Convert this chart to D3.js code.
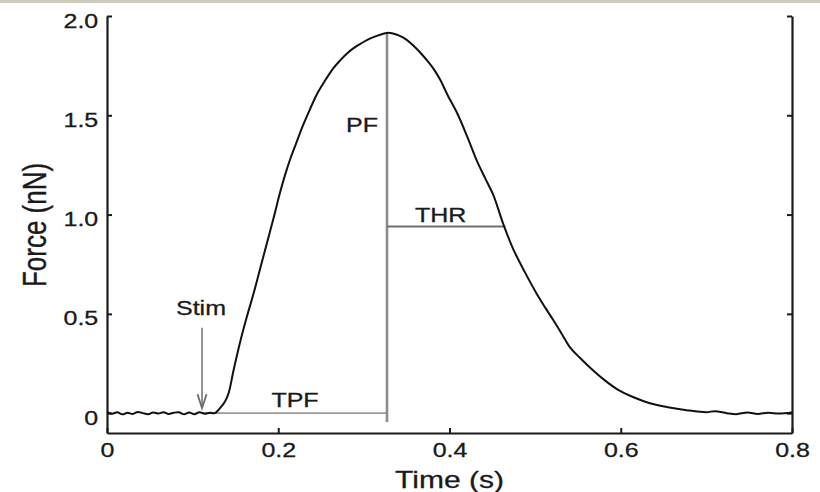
<!DOCTYPE html>
<html>
<head>
<meta charset="utf-8">
<script src="https://cdn.jsdelivr.net/npm/d3@7"></script>
<style>
  body { margin: 0; background: #fff; }
  svg text { font-family: "Liberation Sans", Arial, sans-serif; fill: #1a1a1a; stroke: #1a1a1a; stroke-width: 0.3; }
</style>
</head>
<body>
<div id="chart"></div>
<script>
// Data ----------------------------------------------
const timeValues = [
  0.000, 0.006, 0.012, 0.018, 0.024, 0.030, 0.036, 0.042, 0.048, 0.054,
  0.060, 0.066, 0.072, 0.078, 0.084, 0.090, 0.096, 0.102, 0.108, 0.114,
  0.120, 0.126, 0.132, 0.138, 0.142, 0.148, 0.155, 0.163, 0.171, 0.179,
  0.187, 0.195, 0.202, 0.208, 0.214, 0.221, 0.229, 0.237, 0.245, 0.254,
  0.264, 0.272, 0.280, 0.288, 0.296, 0.304, 0.312, 0.320, 0.327, 0.334,
  0.342, 0.350, 0.358, 0.366, 0.374, 0.382, 0.389, 0.398, 0.409, 0.420,
  0.432, 0.442, 0.451, 0.463, 0.474, 0.488, 0.502, 0.512, 0.521, 0.531,
  0.541, 0.552, 0.564, 0.580, 0.596, 0.615, 0.634, 0.655, 0.677, 0.700,
  0.710, 0.724, 0.735, 0.748, 0.760, 0.772, 0.785, 0.800
];
const forceValues = [
  0.005, -0.003, 0.004, -0.006, 0.002, -0.004, 0.006, 0.000, -0.005, 0.003,
  -0.002, 0.005, -0.004, 0.002, 0.004, -0.006, 0.003, -0.005, 0.004, -0.003,
  0.002, 0.000, 0.025, 0.060, 0.100, 0.220, 0.350, 0.480, 0.600, 0.730,
  0.860, 0.990, 1.110, 1.200, 1.280, 1.360, 1.450, 1.530, 1.605, 1.670,
  1.735, 1.775, 1.810, 1.838, 1.860, 1.880, 1.895, 1.907, 1.915, 1.912,
  1.900, 1.880, 1.850, 1.815, 1.775, 1.730, 1.680, 1.600, 1.510, 1.400,
  1.270, 1.180, 1.100, 0.950, 0.830, 0.710, 0.600, 0.530, 0.470, 0.400,
  0.330, 0.280, 0.230, 0.170, 0.120, 0.080, 0.050, 0.030, 0.015, 0.005,
  0.010, 0.000, -0.005, 0.003, -0.004, 0.002, -0.002, 0.003
];
const xTicks = [0, 0.2, 0.4, 0.6, 0.8];
const xTickLabels = ["0", "0.2", "0.4", "0.6", "0.8"];
const yTicks = [0, 0.5, 1.0, 1.5, 2.0];
const yTickLabels = ["0", "0.5", "1.0", "1.5", "2.0"];

// Annotation values
const stimTime = 0.111;
const peakTime = 0.327;
const peakForce = 1.915;
const halfForce = 0.94;
const halfRelaxTime = 0.465;

// Constants ----------------------------------------------
const width = 820;
const height = 492;
const margin = {left: 107, right: 28, top: 16, bottom: 59};
const stretch = "scale(1.25,1)";

// Scale functions ----------------------------------------------
const xScale = d3.scaleLinear()
  .domain([0, 0.8])
  .range([margin.left, width - margin.right]);

const yScale = d3.scaleLinear()
  .domain([-0.1, 2.0])
  .range([height - margin.bottom, margin.top]);

// SVG ----------------------------------------------
const svg = d3.select("#chart")
  .append("svg")
  .attr("width", width)
  .attr("height", height);

svg.append("rect")
  .attr("x", 0).attr("y", 0)
  .attr("width", width).attr("height", 3)
  .attr("fill", "#cfcbbc");

// Axes
function styleAxis(g) {
  g.select(".domain").attr("stroke", "#1a1a1a").attr("stroke-width", 2.2);
  g.selectAll(".tick line").attr("stroke", "#1a1a1a").attr("stroke-width", 2);
  g.selectAll(".tick text")
    .attr("font-size", 20)
    .attr("fill", "#1a1a1a")
    .attr("transform", stretch);
}

svg.append("g")
  .attr("transform", `translate(0,${height - margin.bottom})`)
  .call(d3.axisBottom(xScale)
    .tickValues(xTicks)
    .tickFormat((d, i) => xTickLabels[i])
    .tickSizeInner(-5)
    .tickSizeOuter(0)
    .tickPadding(10))
  .call(styleAxis);

svg.append("g")
  .attr("transform", `translate(${margin.left},0)`)
  .call(d3.axisLeft(yScale)
    .tickValues(yTicks)
    .tickFormat((d, i) => yTickLabels[i])
    .tickSizeInner(-5)
    .tickSizeOuter(0)
    .tickPadding(7))
  .call(styleAxis)
  .call(g => g.selectAll(".tick text").attr("dy", "0.55em"));

svg.append("g")
  .attr("transform", `translate(${width - margin.right},0)`)
  .call(d3.axisRight(yScale)
    .tickValues(yTicks)
    .tickFormat("")
    .tickSizeInner(-5)
    .tickSizeOuter(0))
  .call(styleAxis);

// Axis titles
svg.append("text")
  .attr("transform", `translate(${(xScale(0) + xScale(0.8)) / 2},488) ${stretch}`)
  .attr("text-anchor", "middle")
  .attr("font-size", 24)
  .text("Time (s)");

svg.append("text")
  .attr("transform", `translate(46,225) ${stretch} rotate(-90)`)
  .attr("text-anchor", "middle")
  .attr("font-size", 26)
  .text("Force (nN)");

// Annotation lines
svg.append("line")
  .attr("x1", xScale(stimTime)).attr("x2", xScale(peakTime))
  .attr("y1", yScale(0)).attr("y2", yScale(0))
  .attr("stroke", "#999").attr("stroke-width", 1.6);

svg.append("line")
  .attr("x1", xScale(peakTime)).attr("x2", xScale(peakTime))
  .attr("y1", yScale(-0.045)).attr("y2", yScale(peakForce))
  .attr("stroke", "#8c8c8c").attr("stroke-width", 2.6);

svg.append("line")
  .attr("x1", xScale(peakTime)).attr("x2", xScale(halfRelaxTime))
  .attr("y1", yScale(halfForce)).attr("y2", yScale(halfForce))
  .attr("stroke", "#707070").attr("stroke-width", 2);

// Stim arrow
const ax = xScale(stimTime);
svg.append("line")
  .attr("x1", ax).attr("x2", ax)
  .attr("y1", yScale(0.43)).attr("y2", yScale(0.03))
  .attr("stroke", "#7a7a7a").attr("stroke-width", 1.6);
svg.append("path")
  .attr("d", `M${ax - 4.5},${yScale(0.095)} L${ax},${yScale(0.025)} L${ax + 4.5},${yScale(0.095)}`)
  .attr("fill", "none")
  .attr("stroke", "#6a6a6a").attr("stroke-width", 1.8);

// Force trace
const trace = timeValues.map((t, i) => [t, forceValues[i]]);
svg.append("path")
  .datum(trace)
  .attr("d", d3.line().x(d => xScale(d[0])).y(d => yScale(d[1])).curve(d3.curveCatmullRom))
  .attr("fill", "none")
  .attr("stroke", "#111")
  .attr("stroke-width", 2);

// Annotation labels
const labels = [
  {text: "Stim", x: 201, y: 315, anchor: "middle"},
  {text: "PF", x: 362, y: 132, anchor: "middle"},
  {text: "THR", x: 415, y: 222, anchor: "start"},
  {text: "TPF", x: 295, y: 407, anchor: "middle"}
];
svg.append("g")
  .selectAll("text")
  .data(labels)
  .enter()
  .append("text")
  .attr("transform", d => `translate(${d.x},${d.y}) ${stretch}`)
  .attr("text-anchor", d => d.anchor)
  .attr("font-size", 20)
  .text(d => d.text);
</script>
</body>
</html>
